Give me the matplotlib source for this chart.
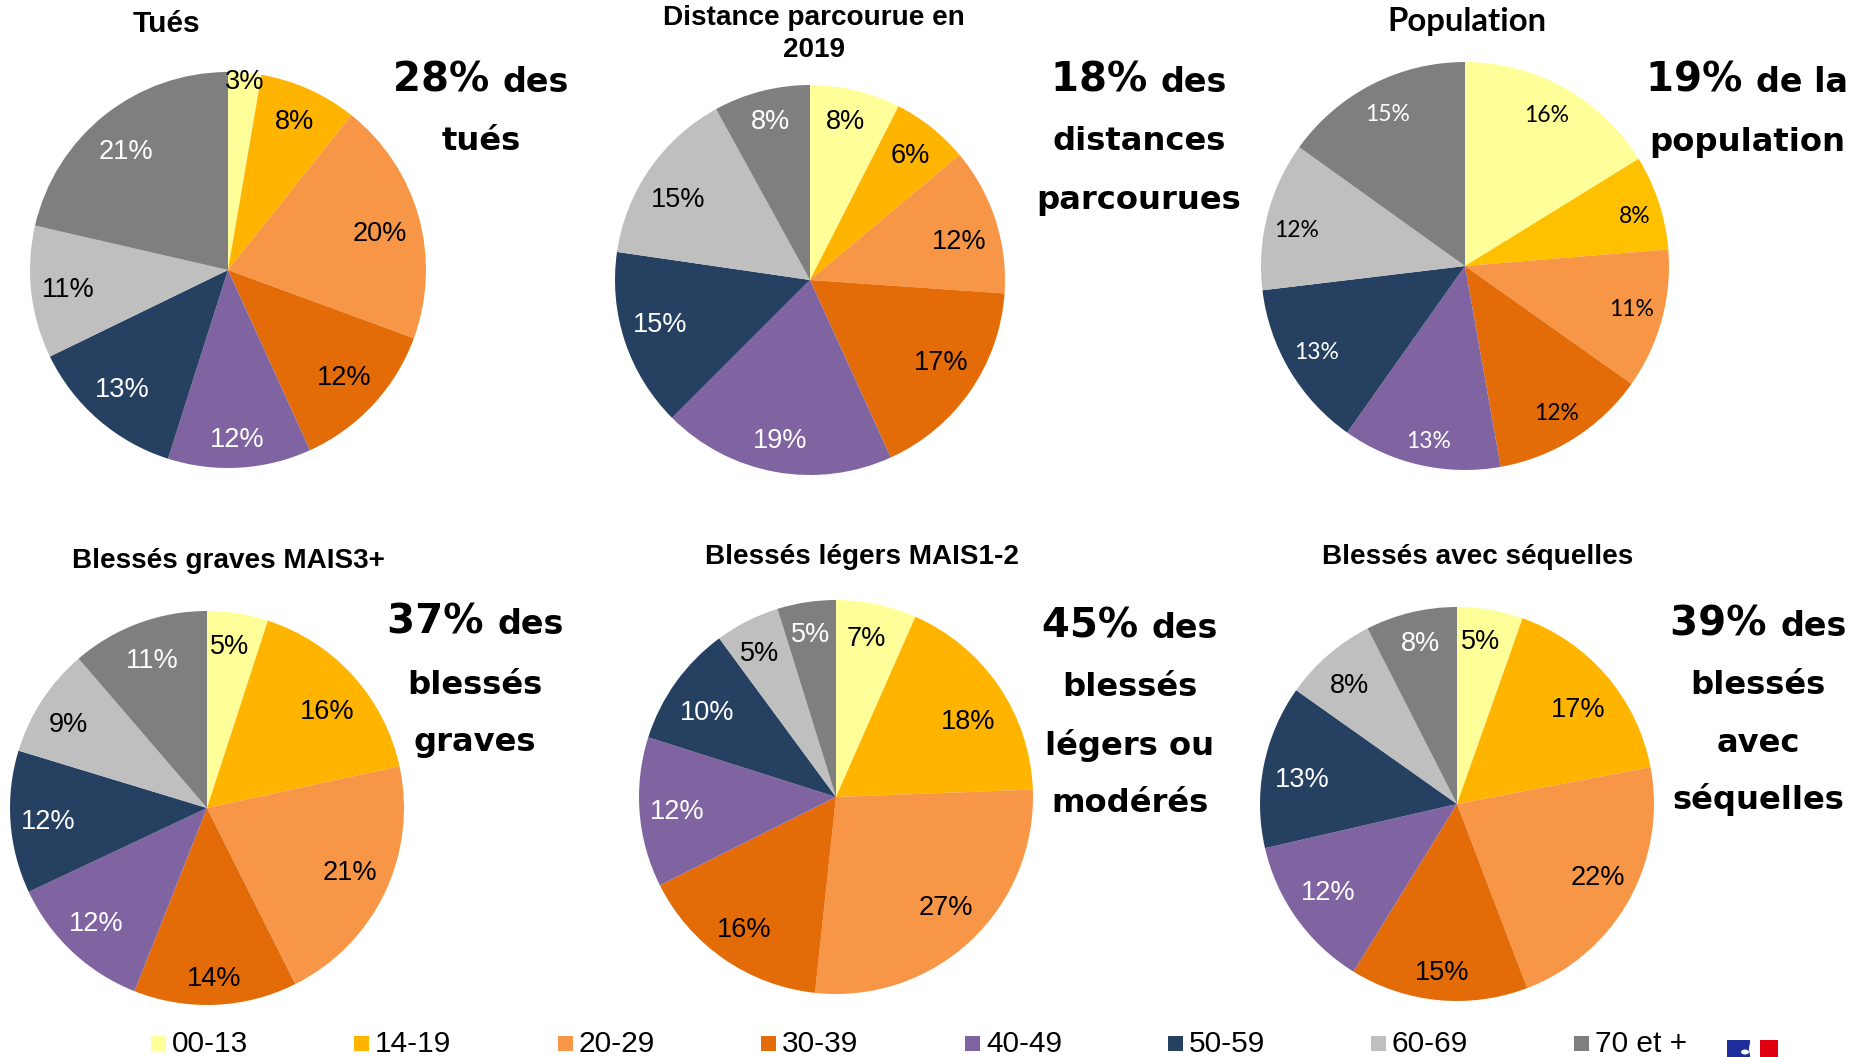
import matplotlib
matplotlib.use("Agg")
import matplotlib.pyplot as plt
from matplotlib.patches import Rectangle, Ellipse
import numpy as np

W, H = 1856, 1057
categories = ["00-13", "14-19", "20-29", "30-39", "40-49", "50-59", "60-69", "70 et +"]
colors = ["#FFFF99", "#FFB400", "#F79646", "#E36C09", "#8064A2", "#254061", "#BFBFBF", "#7F7F7F"]
label_colors = ["black", "black", "black", "black", "white", "white", "black", "white"]

tues = [2.7, 8.0, 19.9, 12.6, 11.7, 12.9, 10.8, 21.4]
distance = [7.5, 6.4, 12.2, 17.1, 19.3, 14.8, 14.7, 8.0]
population = [16.2, 7.5, 11.1, 12.4, 12.6, 13.3, 11.8, 15.1]
graves = [5.0, 16.6, 21.0, 13.4, 12.0, 11.7, 9.0, 11.3]
legers = [6.6, 17.8, 27.3, 15.9, 12.3, 10.0, 5.3, 4.8]
sequelles = [5.4, 16.6, 22.2, 14.6, 12.6, 13.4, 7.7, 7.5]

tues_labels = ["3%", "8%", "20%", "12%", "12%", "13%", "11%", "21%"]
distance_labels = ["8%", "6%", "12%", "17%", "19%", "15%", "15%", "8%"]
population_labels = ["16%", "8%", "11%", "12%", "13%", "13%", "12%", "15%"]
graves_labels = ["5%", "16%", "21%", "14%", "12%", "12%", "9%", "11%"]
legers_labels = ["7%", "18%", "27%", "16%", "12%", "10%", "5%", "5%"]
sequelles_labels = ["5%", "17%", "22%", "15%", "12%", "13%", "8%", "8%"]

titles = ["Tués", "Distance parcourue en\n2019", "Population",
          "Blessés graves MAIS3+", "Blessés légers MAIS1-2", "Blessés avec séquelles"]
big = ["28%", "18%", "19%", "37%", "45%", "39%"]
small_first = ["des", "des", "de la", "des", "des", "des"]
rest = [["tués"], ["distances", "parcourues"], ["population"],
        ["blessés", "graves"], ["blessés", "légers ou", "modérés"],
        ["blessés", "avec", "séquelles"]]

series = [tues, distance, population, graves, legers, sequelles]
series_labels = [tues_labels, distance_labels, population_labels, graves_labels, legers_labels, sequelles_labels]

# layout, in reference pixels
S = 1856 / 1568
centers = [(228, 270), (810, 280), (1465, 266), (207, 808), (836, 797), (1457, 804)]
radii = [198, 195, 204, 197, 197, 197]
title_xy = [(166, 24), (814, 34), (1467, 21), (228, 561), (862, 557), (1478, 557)]
title_sizes = [21.5, 20.1, 23.7, 20.1, 20.1, 20.1]
head_x = [481, 1139, 1747, 475, 1130, 1758]
head_y = [[81, 142], [81, 142, 200], [81, 142], [623, 685, 742], [626, 688, 746, 804], [625, 686, 744, 799]]
label_pos = [
    [(207, 68), (249, 101), (321, 196), (291, 318), (200, 370), (103, 328), (58, 243), (106, 127)],
    [(714, 101), (769, 130), (810, 203), (795, 305), (659, 371), (558, 273), (573, 167), (651, 101)],
    [(1307, 96), (1381, 181), (1378, 260), (1315, 348), (1207, 371), (1112, 296), (1095, 193), (1172, 95)],
    [(194, 545), (276, 600), (296, 736), (181, 825), (81, 779), (41, 693), (58, 611), (129, 557)],
    [(732, 538), (818, 608), (799, 765), (629, 784), (572, 684), (597, 601), (642, 551), (685, 535)],
    [(1251, 541), (1333, 598), (1350, 740), (1218, 820), (1122, 753), (1100, 657), (1140, 578), (1200, 542)],
]

fig = plt.figure(figsize=(W / 100, H / 100), dpi=100, facecolor="white")
ov = fig.add_axes([0, 0, 1, 1], zorder=5)
ov.set_xlim(0, W); ov.set_ylim(H, 0); ov.axis("off"); ov.patch.set_alpha(0)

SANS = "Liberation Sans"
for i, vals in enumerate(series):
    cx, cy = centers[i]; r = radii[i]
    ax = fig.add_axes([(cx - r * 1.02) / W, 1 - (cy + r * 1.02) / H, 2.04 * r / W, 2.04 * r / H])
    pie_colors = list(colors)
    if i == 2:
        pie_colors[1] = "#FFC000"
    wedges, _ = ax.pie(vals, colors=pie_colors, startangle=90, counterclock=False, radius=1,
                       wedgeprops=dict(linewidth=0))
    ax.set_xlim(-1.02, 1.02); ax.set_ylim(-1.02, 1.02)
    fam = "Lato" if i == 2 else SANS
    fs = 16.5 if i == 2 else 19.5
    for j, lab in enumerate(series_labels[i]):
        px, py = label_pos[i][j]
        c = label_colors[j]
        if i == 2 and j in (4, 5, 7):
            c = "white"
        ov.text(px * S, py * S + 2, lab, ha="center", va="center", color=c, fontsize=fs, family=fam)
    tx, ty = title_xy[i]
    ov.text(tx, ty, titles[i], ha="center", va="center", fontsize=title_sizes[i],
            fontweight="bold", family="Lato" if i == 2 else SANS, linespacing=1.3)

    # headline
    fig.canvas.draw()
    rend = fig.canvas.get_renderer()
    x0 = head_x[i]; ys = head_y[i]
    t1 = ov.text(0, ys[0], big[i] + " ", fontsize=29, fontweight="bold", family="DejaVu Sans", va="center", ha="left")
    t2 = ov.text(0, ys[0] + 2, small_first[i], fontsize=24, fontweight="bold", family="DejaVu Sans", va="center", ha="left")
    w1 = t1.get_window_extent(rend).width; w2 = t2.get_window_extent(rend).width
    t1.set_x(x0 - (w1 + w2) / 2); t2.set_x(x0 - (w1 + w2) / 2 + w1)
    for s, y in zip(rest[i], ys[1:]):
        ov.text(x0, y, s, fontsize=23.2, fontweight="bold", family="DejaVu Sans", ha="center", va="center")

# legend
leg_x = [151, 354, 558, 761, 965, 1168, 1371, 1574]
for x, c, name in zip(leg_x, colors, categories):
    ov.add_patch(Rectangle((x, 1036), 15, 15, facecolor=c, edgecolor="none"))
    ov.text(x + 21, 1044, name, fontsize=21.5, family=SANS, ha="left", va="center")

# logo
ov.add_patch(Rectangle((1727, 1040), 23, 17, facecolor="#1E2D9C", edgecolor="none"))
ov.add_patch(Rectangle((1760, 1040), 18, 17, facecolor="#E1000F", edgecolor="none"))
ov.add_patch(Ellipse((1745, 1052), 8, 5, facecolor="white", edgecolor="none"))
ov.add_patch(Ellipse((1754, 1049), 10, 18, facecolor="white", edgecolor="none"))

fig.savefig("out.png", dpi=100)
